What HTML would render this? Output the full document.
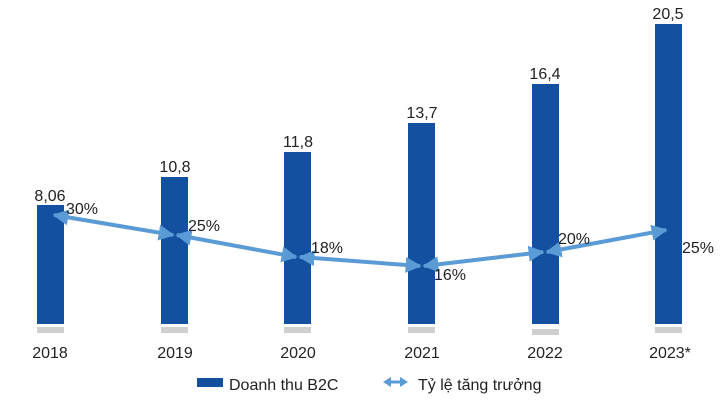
<!DOCTYPE html>
<html><head><meta charset="utf-8"><style>
html,body{margin:0;padding:0;background:#fff;width:720px;height:405px;overflow:hidden}
text{font-family:"Liberation Sans","Noto Sans CJK SC",sans-serif;fill:#222}
</style></head><body>
<svg width="720" height="405" viewBox="0 0 720 405" xmlns="http://www.w3.org/2000/svg">
<defs>
<marker id="a" viewBox="0 0 10 10" refX="9" refY="5" markerWidth="4" markerHeight="4" orient="auto-start-reverse"><path d="M0,0 L10,5 L0,10 Z" fill="#5b9bd5"/></marker>
</defs>
<g fill="#1450a0">
<rect x="37" y="205" width="27" height="119"/>
<rect x="161" y="177" width="27" height="147"/>
<rect x="284" y="152" width="27" height="172"/>
<rect x="408" y="123" width="27" height="201"/>
<rect x="532" y="84" width="27" height="240"/>
<rect x="655" y="24" width="27" height="300"/>
</g>
<g fill="#cfcfcf">
<rect x="37" y="327" width="27" height="6"/>
<rect x="161" y="327" width="27" height="6"/>
<rect x="284" y="327" width="27" height="6"/>
<rect x="408" y="327" width="27" height="6"/>
<rect x="532" y="329" width="27" height="6"/>
<rect x="655" y="327" width="27" height="6"/>
</g>
<g stroke="#5b9bd5" stroke-width="4" fill="none" marker-start="url(#a)" marker-end="url(#a)">
<line x1="54" y1="215" x2="173" y2="235"/>
<line x1="177" y1="235" x2="296" y2="257"/>
<line x1="300" y1="257" x2="420" y2="266"/>
<line x1="424" y1="266" x2="543" y2="252"/>
<line x1="547" y1="252" x2="666" y2="230"/>
</g>
<g font-size="16" text-anchor="middle">
<text x="50" y="201">8,06</text>
<text x="175" y="172">10,8</text>
<text x="298" y="147">11,8</text>
<text x="422" y="118">13,7</text>
<text x="545" y="79">16,4</text>
<text x="668" y="19">20,5</text>
<text x="50" y="358">2018</text>
<text x="175" y="358">2019</text>
<text x="298" y="358">2020</text>
<text x="422" y="358">2021</text>
<text x="545" y="358">2022</text>
<text x="670" y="358">2023*</text>
</g>
<g font-size="16">
<text x="66" y="214">30%</text>
<text x="188" y="231">25%</text>
<text x="311" y="253">18%</text>
<text x="434" y="280">16%</text>
<text x="558" y="244">20%</text>
<text x="682" y="253">25%</text>
</g>
<rect x="197" y="378" width="26" height="9" fill="#1450a0"/>
<text x="229" y="390" font-size="16">Doanh thu B2C</text>
<line x1="389" y1="382" x2="402" y2="382" stroke="#5b9bd5" stroke-width="3"/>
<path d="M383,382 L391,377 L391,387 Z M408,382 L400,377 L400,387 Z" fill="#5b9bd5"/>
<text x="418" y="390" font-size="16">Tỷ lệ tăng trưởng</text>
</svg>
</body></html>
